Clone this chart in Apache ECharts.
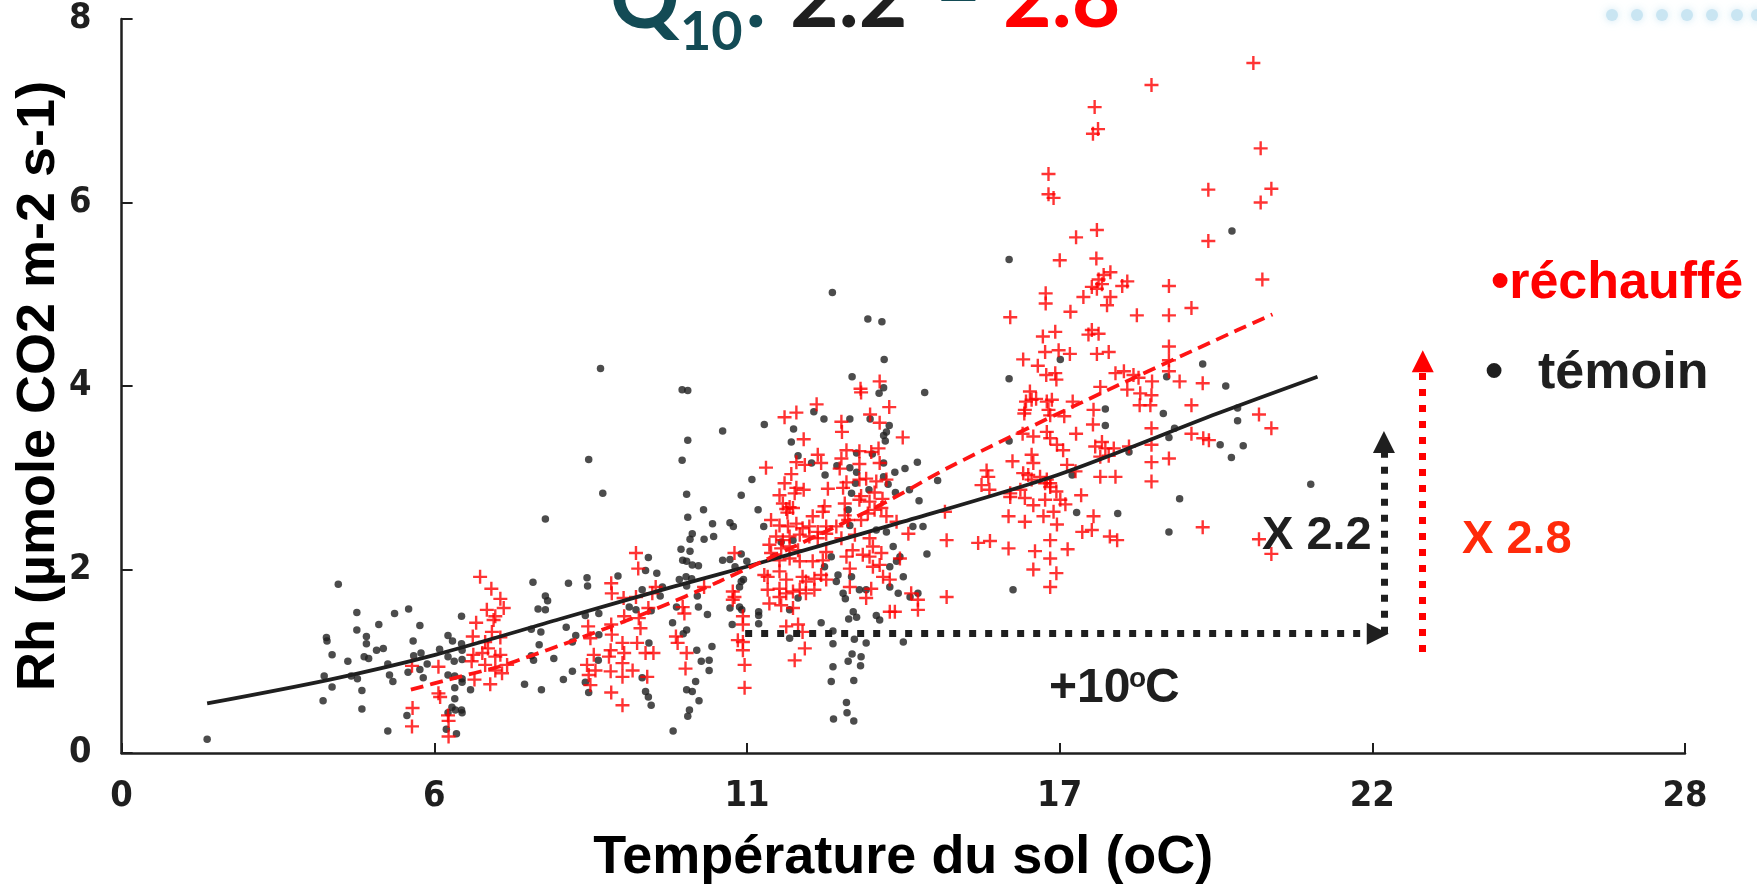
<!DOCTYPE html>
<html>
<head>
<meta charset="utf-8">
<script src="https://cdn.jsdelivr.net/npm/echarts@6/dist/echarts.min.js"></script>
<style>
html,body{margin:0;padding:0;background:#fff;}
#chart{width:1757px;height:885px;}
</style>
</head>
<body>
<div id="chart"></div>
<script>
// ---------- data ----------
const xTickLabels = ['0', '6', '11', '17', '22', '28'];
const xMax = 27.78;
const xStep = 5.556;
const yTickMax = 8;

// témoin (black dots) [temperature, Rh]
const temoinPts = [
[1.52,0.15],[3.85,1.84],[4.18,1.53],[4.85,1.52],[5.10,1.57],[4.18,1.34],[4.57,1.40],[5.30,1.39],[4.35,1.27],[3.64,1.26],[3.65,1.22],[4.35,1.19],[6.04,1.49],[3.74,1.07],[4.02,1.00],[4.31,1.05],[4.39,1.03],[4.53,1.12],[4.65,1.14],[4.73,0.97],[5.18,1.22],[5.32,1.09],[5.19,1.06],[3.60,0.84],[4.08,0.84],[4.19,0.81],[3.74,0.72],[4.27,0.68],[3.58,0.57],[4.27,0.48],[4.76,0.85],[4.82,0.78],[5.09,0.88],[5.30,0.91],[5.36,0.82],[5.65,1.13],[5.80,1.28],[5.88,1.22],[6.04,1.19],[6.05,1.12],[6.05,1.02],[5.80,1.05],[5.91,1.00],[5.80,0.85],[5.92,0.84],[6.05,0.81],[6.05,0.77],[5.92,0.71],[6.20,0.69],[5.92,0.59],[5.87,0.50],[5.93,0.47],[6.04,0.47],[6.05,0.44],[5.80,0.44],[5.77,0.26],[5.95,0.21],[5.07,0.41],[4.73,0.24],[5.43,0.97],
[8.51,4.19],[9.96,3.96],[10.06,3.95],[10.06,3.41],[8.30,3.20],[9.96,3.19],[8.55,2.83],[10.04,2.82],[7.53,2.55],[10.06,2.57],[10.34,2.65],[10.50,2.50],[10.14,2.39],[10.10,2.33],[10.35,2.33],[10.52,2.36],[9.94,2.22],[10.10,2.20],[9.36,2.13],[9.97,2.10],[10.04,2.09],[10.14,2.05],[10.25,2.04],[9.31,1.99],[9.51,1.96],[8.82,1.93],[8.27,1.91],[8.28,1.82],[7.94,1.85],[7.31,1.86],[9.91,1.89],[10.03,1.92],[10.13,1.90],[9.61,1.81],[9.57,1.71],[9.25,1.78],[10.23,1.71],[10.04,1.82],[7.53,1.71],[7.57,1.66],[7.40,1.57],[7.53,1.56],[8.24,1.50],[8.48,1.52],[9.02,1.59],[9.14,1.56],[9.41,1.55],[9.86,1.59],[10.25,1.59],[10.41,1.51],[9.79,1.42],[10.04,1.34],[9.98,1.30],[7.28,1.35],[7.45,1.32],[7.90,1.37],[8.07,1.28],[8.01,1.21],[8.48,1.29],[7.42,1.18],[7.28,1.06],[7.32,1.01],[7.68,1.03],[8.47,1.01],[8.01,0.89],[7.85,0.80],[7.16,0.75],[7.46,0.69],[8.30,0.66],[8.24,0.77],[9.25,0.82],[9.37,1.20],[10.22,1.12],[10.30,1.00],[10.44,1.01],[10.44,0.90],[10.49,1.16],[10.20,0.78],[10.14,0.67],[10.04,0.69],[10.26,0.57],[10.09,0.47],[10.06,0.40],[9.31,0.67],[9.36,0.61],[9.41,0.52],[9.80,0.24],
[12.63,5.02],[13.26,4.73],[13.51,4.70],[13.55,4.29],[12.98,4.10],[13.54,3.98],[13.46,3.92],[14.27,3.93],[10.68,3.51],[11.42,3.58],[12.30,3.72],[12.48,3.64],[12.94,3.64],[13.30,3.64],[11.94,3.53],[11.90,3.39],[13.64,3.57],[13.59,3.50],[13.54,3.46],[13.57,3.40],[12.02,3.24],[12.26,3.16],[13.06,3.27],[13.34,3.26],[12.71,3.13],[12.94,3.11],[13.54,3.16],[14.14,3.17],[13.92,3.10],[13.74,3.06],[13.06,3.06],[12.50,3.03],[11.20,2.98],[13.54,3.01],[13.04,2.94],[13.62,2.93],[14.50,2.97],[11.01,2.81],[12.97,2.83],[13.28,2.87],[13.75,2.84],[14.00,2.87],[14.17,2.75],[11.31,2.65],
[10.81,2.51],[10.87,2.47],[11.41,2.47],[10.68,2.10],[10.81,2.11],[10.90,2.03],[11.01,2.17],[11.11,2.09],[11.01,1.87],[11.05,1.89],[10.98,1.81],[10.81,1.58],[10.98,1.59],[11.02,1.56],[10.85,1.40],[11.32,1.54],[11.32,1.50],[11.32,1.41],[11.87,1.56],[12.02,1.69],[11.93,2.32],[11.60,2.14],[11.87,1.25],[12.43,1.42],[12.64,1.33],[12.64,1.19],[12.70,1.87],[12.73,1.94],[12.49,2.03],[12.61,2.14],[12.82,1.74],[12.86,1.68],[12.97,1.92],[13.00,1.54],[13.06,1.48],[12.92,1.46],[13.02,1.24],[12.98,1.08],[12.91,1.00],[13.14,1.05],[13.13,0.95],[13.23,1.20],[12.64,0.94],[12.61,0.78],[13.01,0.79],[12.88,0.55],[12.89,0.44],[13.01,0.35],[12.65,0.37],[13.11,1.78],[13.23,1.78],[13.41,1.50],[13.47,1.45],[13.89,1.21],[13.89,1.92],[13.80,1.74],[13.71,2.25],[13.77,2.09],[13.83,2.14],[13.65,2.03],[13.65,1.81],[13.41,2.43],[13.59,2.41],[14.06,2.47],[14.24,2.47],[14.31,2.17],[14.15,1.74],[14.01,1.70],[12.94,2.48],[12.91,2.65],[11.72,2.30],
[15.77,5.38],[19.73,5.69],
[16.68,4.29],[15.77,4.08],[19.21,4.24],[19.62,4.00],[18.57,4.10],[17.48,3.75],[17.48,3.57],[18.51,3.70],[18.71,3.54],[18.61,3.44],[19.83,3.76],[19.83,3.62],[19.52,3.36],[19.93,3.35],[19.72,3.22],[15.77,3.40],[17.90,3.28],[16.89,3.03],[21.13,2.93],[18.80,2.77],[16.97,2.62],[17.70,2.61],[18.61,2.41],[15.84,1.78]
];

// réchauffé (red crosses) [temperature, Rh]
const rechauffePts = [
[6.37,1.92],[6.57,1.79],[6.49,1.56],[6.61,1.45],[6.30,1.42],[6.58,1.32],[6.24,1.27],[6.46,1.21],[6.51,1.14],[6.25,1.07],[6.41,1.09],[6.64,1.05],[6.22,1.00],[6.46,0.96],[5.16,0.95],[5.63,0.94],[6.27,0.80],[6.55,0.75],[5.63,0.65],[5.66,0.61],[5.17,0.49],[5.80,0.41],[5.81,0.35],[5.16,0.29],[5.81,0.18],
[6.73,1.68],[6.79,1.58],[6.64,1.49],[6.73,1.26],[6.73,1.07],[6.85,0.96],[6.64,0.90],[6.76,0.87],[9.14,2.18],[9.18,2.01],[8.70,1.85],[8.71,1.74],[8.92,1.69],[9.14,1.70],[9.43,1.74],[9.49,1.81],[9.36,1.58],[8.93,1.49],[9.19,1.47],[8.29,1.38],[8.70,1.40],[9.22,1.36],[8.33,1.25],[8.71,1.29],[9.16,1.20],[8.90,1.20],[8.69,1.12],[9.31,1.09],[9.45,1.09],[8.93,1.09],[8.39,1.07],[8.66,1.05],[8.90,0.98],[8.27,0.96],[8.42,0.90],[8.69,0.89],[9.08,0.90],[8.30,0.85],[8.90,0.83],[9.34,0.83],[8.33,0.74],[8.70,0.66],[8.90,0.52],[9.85,1.27],[9.88,1.20],[10.04,1.09],[10.02,0.92],[9.97,1.59],[10.00,1.52],[10.35,1.81],
[13.47,4.05],[13.13,3.97],[13.14,3.93],[12.35,3.80],[11.99,3.71],[11.78,3.66],[13.64,3.77],[13.30,3.69],[13.47,3.60],[12.79,3.61],[12.80,3.50],[13.88,3.44],[12.12,3.42],[12.88,3.30],[13.11,3.29],[13.32,3.28],[13.45,3.32],[12.37,3.25],[12.79,3.21],[11.99,3.17],[12.14,3.14],[12.43,3.16],[13.11,3.15],[13.47,3.16],[12.76,3.10],[11.45,3.11],[11.90,3.04],[12.88,2.95],[13.11,2.98],[13.23,2.99],[13.41,2.96],[13.59,2.98],[11.78,2.94],[11.99,2.89],[12.12,2.87],[12.55,2.88],[12.82,2.89],[11.69,2.81],[11.96,2.83],[13.14,2.80],[13.38,2.84],[13.52,2.77],[11.75,2.72],[11.87,2.68],[12.49,2.69],[12.85,2.72],[13.11,2.76],[13.29,2.74],
[11.81,2.66],[11.83,2.62],[11.93,2.67],[12.46,2.63],[12.85,2.59],[13.38,2.65],[13.26,2.61],[13.50,2.67],[13.59,2.58],[12.28,2.58],[11.54,2.54],[11.69,2.48],[11.84,2.47],[11.99,2.50],[12.10,2.45],[12.22,2.47],[12.37,2.41],[12.52,2.47],[12.70,2.47],[12.91,2.54],[13.14,2.54],[13.77,2.52],[14.63,2.63],[14.66,2.32],[13.98,2.39],[11.63,2.36],[11.75,2.32],[11.87,2.36],[12.05,2.38],[12.22,2.36],[12.37,2.34],[12.52,2.39],[12.79,2.34],[13.03,2.38],[13.29,2.34],[13.35,2.25],[11.51,2.27],[11.72,2.23],[11.87,2.25],[12.02,2.21],[11.54,2.18],[10.89,2.18],[12.52,2.19],[12.99,2.21],[13.17,2.16],[13.29,2.14],[13.50,2.18],[12.88,2.14],[11.69,2.10],[11.87,2.12],[12.05,2.09],[12.28,2.09],[12.46,2.10],[13.83,2.12],[12.94,2.01],[13.35,2.03],[13.47,2.05],[11.42,1.94],[11.48,1.92],[11.69,1.98],[11.81,1.89],[12.10,1.92],[12.16,1.87],[12.31,1.90],[12.43,1.94],[12.52,1.89],[13.53,1.92],[13.65,1.89],[10.86,1.76],[10.89,1.70],[10.86,1.67],[11.48,1.78],[11.69,1.79],[11.81,1.74],[11.69,1.70],[11.93,1.76],[12.05,1.78],[12.16,1.74],[12.31,1.78],[12.94,1.81],[13.32,1.79],[13.23,1.69],[14.03,1.74],[14.15,1.67],[14.15,1.56],[14.66,1.70],[13.65,1.54],[13.74,1.54],[11.51,1.63],[11.72,1.61],[11.93,1.58],[11.04,1.49],[11.04,1.40],[11.81,1.38],[12.02,1.40],[12.10,1.32],[10.95,1.23],[11.04,1.21],[11.04,1.12],[12.14,1.14],[11.96,1.01],[11.07,0.96],[11.07,0.71],
[20.11,7.52],[18.30,7.28],[17.29,7.04],[17.35,6.80],[17.26,6.75],[20.24,6.59],[16.47,6.31],[16.47,6.09],[16.56,6.05],[19.31,6.14],[20.43,6.15],[20.24,6.00],[17.33,5.70],[16.96,5.62],[19.31,5.58],[16.67,5.37],[17.32,5.39],[20.27,5.16],[17.57,5.24],[17.45,5.21],[17.36,5.16],[17.24,5.08],[17.33,5.06],[17.42,5.11],[17.87,5.14],[17.78,5.09],[18.61,5.09],[16.42,5.01],[16.42,4.90],[17.09,4.97],[17.57,4.97],[17.51,4.88],[16.86,4.81],[15.79,4.75],[18.04,4.77],[18.61,4.77],[19.01,4.85],[16.59,4.59],[16.37,4.54],[17.24,4.61],[17.36,4.57],[17.18,4.56],
[16.02,4.29],[16.41,4.37],[16.65,4.39],[16.85,4.35],[17.33,4.35],[17.54,4.37],[16.28,4.22],[16.43,4.12],[16.59,4.14],[16.61,4.07],[18.61,4.43],[18.61,4.28],[18.61,4.16],[17.66,4.14],[17.81,4.16],[17.98,4.12],[18.07,4.09],[18.80,4.05],[19.21,4.03],[18.31,4.05],[18.30,3.90],[18.28,3.79],[17.87,3.96],[18.10,3.92],[18.09,3.79],[17.39,3.99],[16.14,3.94],[16.17,3.85],[16.07,3.83],[16.25,3.86],[16.05,3.74],[16.04,3.70],[16.44,3.83],[16.53,3.85],[16.47,3.74],[16.50,3.68],[16.75,3.67],[16.90,3.83],[17.27,3.74],[17.26,3.58],[19.01,3.79],[18.30,3.54],[18.30,3.36],[18.30,3.17],[18.30,2.96],[19.01,3.48],[19.22,3.43],[19.32,3.41],[18.61,3.21],[20.21,3.69],[20.43,3.54],[16.96,3.48],[16.01,3.48],[16.20,3.45],[16.44,3.50],[16.50,3.43],[16.62,3.36],[16.73,3.30],[17.42,3.39],[17.30,3.34],[17.48,3.32],[17.63,3.32],[17.90,3.34],[17.39,3.23],[17.54,3.24],[15.83,3.18],[16.17,3.25],[16.20,3.16],[16.80,3.14],[16.95,3.07],[15.37,3.08],[15.40,3.01],[15.28,2.92],[15.42,2.87],[16.02,3.05],[16.11,3.03],[16.17,2.98],[16.32,3.01],[16.44,2.98],[16.50,2.94],[16.41,2.94],[16.50,2.90],[17.39,3.01],[17.66,3.01],[15.79,2.83],[15.79,2.79],[15.97,2.87],[16.05,2.78],[16.61,2.85],[16.68,2.76],[16.77,2.71],[16.41,2.76],[16.20,2.70],[17.05,2.81],[16.56,2.63],[15.76,2.58],[16.05,2.52],[16.38,2.58],[16.62,2.49],[17.27,2.58],[17.24,2.43],[17.07,2.41],[19.21,2.46],[17.56,2.36],[17.69,2.32],[15.22,2.29],[15.43,2.31],[15.76,2.23],[16.50,2.32],[16.50,2.12],[16.23,2.20],[16.81,2.22],[16.20,2.00],[16.61,1.96],[16.50,1.81],[20.21,2.33],[20.43,2.17]
];

// fitted curves
const temoinFit = [[1.52,0.54],[3.70,0.80],[5.57,1.07],[7.79,1.46],[9.79,1.81],[11.10,2.03],[13.77,2.50],[16.63,3.03],[19.47,3.70],[21.25,4.10]];
const rechauffeFit = [[5.14,0.69],[5.81,0.80],[6.70,0.94],[7.00,1.00],[8.18,1.26],[9.37,1.54],[10.62,1.87],[13.47,2.70],[14.72,3.12],[17.09,3.83],[19.83,4.61],[20.45,4.78]];

// annotation arrows (start, end) in data units
const arrowTenDegrees = [[11.08,1.30],[22.32,1.30]];
const arrowBlackRise = [[22.43,1.30],[22.43,3.39]];
const arrowRedRise = [[23.12,1.10],[23.12,4.27]];

// ---------- chart ----------
const FONT = '"Liberation Sans", Arial, sans-serif';
const NARROW = '"DejaVu Sans Condensed", "Liberation Sans", sans-serif';
const DARK = '#1f1f1f';
const RED = '#ff0000';
const TEAL = '#134b55';
const chart = echarts.init(document.getElementById('chart'), null, {renderer: 'canvas'});

const crossPath = 'path://M5.8,0H8.2V5.8H14V8.2H8.2V14H5.8V8.2H0V5.8H5.8Z';
const dotted = (w, color) => ({color: color, width: w, type: [7, 9], cap: 'butt'});

function txt(text, x, y, font, fill) {
  return {type: 'text', x: x, y: y, silent: true, z: 100,
    style: {text: text, font: font, fill: fill, align: 'left', verticalAlign: 'middle',
            textAlign: 'left', textVerticalAlign: 'middle'}};
}

const decoDots = [];
[1612,1637,1662,1687,1712,1737,1757].forEach(cx => decoDots.push({
  type: 'circle', shape: {cx: cx, cy: 15, r: 6}, silent: true,
  style: {fill: '#c9e5f2', shadowBlur: 8, shadowColor: 'rgba(170,215,235,0.6)'}
}));

const TITLEFONT = 'Lato, "Open Sans", sans-serif';

const option = {
  animation: false,
  backgroundColor: '#ffffff',
  grid: {left: 121.6, right: 72, top: 19, bottom: 132, containLabel: false, outerBoundsMode: 'none'},
  xAxis: {
    type: 'value', min: 0, max: xMax, interval: xStep,
    name: 'Température du sol (oC)', nameLocation: 'middle', nameGap: 78, nameMoveOverlap: false,
    nameTextStyle: {fontFamily: FONT, fontWeight: 'bold', fontSize: 54, color: '#000'},
    axisLine: {show: true, onZero: false, lineStyle: {color: DARK, width: 2.5}},
    axisTick: {show: true, inside: true, length: 10, lineStyle: {color: DARK, width: 2}},
    splitLine: {show: false},
    axisLabel: {margin: 26, fontFamily: NARROW, fontWeight: 'bold', fontSize: 36, color: DARK,
      formatter: v => xTickLabels[Math.round(v / xStep)]}
  },
  yAxis: {
    type: 'value', min: 0, max: yTickMax, interval: 2,
    name: 'Rh (µmole CO2 m-2 s-1)', nameLocation: 'middle', nameGap: 55, nameRotate: 90,
    nameMoveOverlap: false,
    nameTextStyle: {fontFamily: FONT, fontWeight: 'bold', fontSize: 54, color: '#000'},
    axisLine: {show: true, onZero: false, lineStyle: {color: DARK, width: 2.5}},
    axisTick: {show: true, inside: true, length: 11, lineStyle: {color: DARK, width: 2}},
    splitLine: {show: false},
    axisLabel: {margin: 30, fontFamily: NARROW, fontWeight: 'bold', fontSize: 36, color: DARK}
  },
  series: [
    {type: 'scatter', name: 'témoin', data: temoinPts, symbol: 'circle', symbolSize: 7.5,
     itemStyle: {color: DARK}, z: 2, silent: true},
    {type: 'scatter', name: 'réchauffé', data: rechauffePts, symbol: crossPath, symbolSize: 14,
     itemStyle: {color: RED}, z: 3, silent: true},
    {type: 'line', name: 'fit témoin', data: temoinFit, showSymbol: false, smooth: 0.3,
     lineStyle: {color: DARK, width: 3.8}, z: 4, silent: true,
     markLine: {silent: true, symbol: ['none', 'triangle'], symbolSize: [22, 22],
       label: {show: false}, lineStyle: dotted(7, DARK), itemStyle: {color: DARK},
       data: [
         [{coord: arrowTenDegrees[0]}, {coord: arrowTenDegrees[1]}],
         [{coord: arrowBlackRise[0]}, {coord: arrowBlackRise[1]}]
       ]}},
    {type: 'line', name: 'fit réchauffé', data: rechauffeFit, showSymbol: false, smooth: 0.3,
     lineStyle: {color: '#ff1414', width: 3.8, type: [13, 7]}, z: 4, silent: true,
     markLine: {silent: true, symbol: ['none', 'triangle'], symbolSize: [22, 22],
       label: {show: false}, lineStyle: dotted(7, RED), itemStyle: {color: RED},
       data: [[{coord: arrowRedRise[0]}, {coord: arrowRedRise[1]}]]}}
  ],
  graphic: [
    ...decoDots,
    // title  Q10: 2.2 – 2.8
    txt('Q', 610, 0, 'bold 86px ' + TITLEFONT, TEAL),
    txt('10', 680, 33, 'bold 54px ' + TITLEFONT, TEAL),
    txt(':', 745, 0, 'bold 84px ' + TITLEFONT, TEAL),
    txt('2.2', 790, 0, 'bold 84px ' + TITLEFONT, DARK),
    txt('\u2013', 934, -4, 'bold 84px ' + TITLEFONT, TEAL),
    txt('2.8', 1003, 0, 'bold 84px ' + TITLEFONT, RED),
    // legend
    txt('•réchauffé', 1491, 284, 'bold 52px ' + FONT, RED),
    txt('•', 1485, 374, 'bold 52px ' + FONT, DARK),
    txt('témoin', 1538, 374, 'bold 52px ' + FONT, DARK),
    // annotations
    txt('X 2.2', 1262, 536, 'bold 47px ' + FONT, DARK),
    txt('X 2.8', 1462, 540, 'bold 47px ' + FONT, '#ff2a0a'),
    txt('+10', 1049, 689, 'bold 48px ' + FONT, DARK),
    txt('o', 1129, 679, 'bold 28px ' + FONT, DARK),
    txt('C', 1145, 689, 'bold 48px ' + FONT, DARK)
  ]
};
chart.setOption(option);
</script>
</body>
</html>
